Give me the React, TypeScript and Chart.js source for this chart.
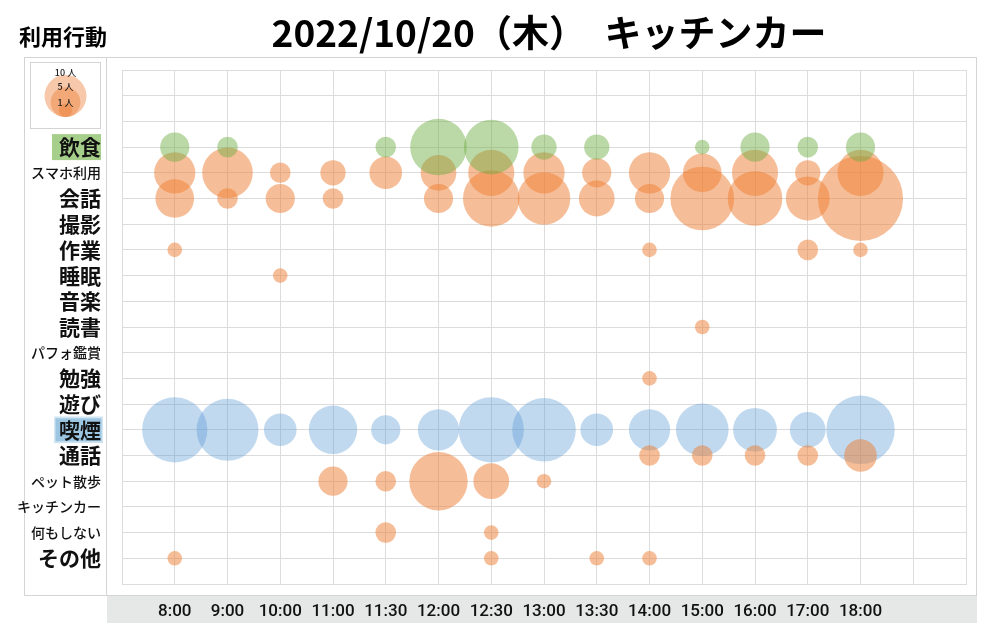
import React, { useEffect, useRef } from "react";
import { Chart, registerables } from "chart.js";

Chart.register(...registerables);

// ---- data ----
const TITLE = "2022/10/20（木）　キッチンカー";
const SIDE_TITLE = "利用行動";
const TIMES = ["8:00", "9:00", "10:00", "11:00", "11:30", "12:00", "12:30", "13:00", "13:30", "14:00", "15:00", "16:00", "17:00", "18:00"];
const ACTIVITIES = ["飲食", "スマホ利用", "会話", "撮影", "作業", "睡眠", "音楽", "読書", "パフォ鑑賞", "勉強", "遊び", "喫煙", "通話", "ペット散歩", "キッチンカー", "何もしない", "その他"];
const LEGEND_LABELS = ["10 人", "5 人", "1 人"];
const LEGEND_COUNTS = [10, 5, 1];

// people per time slot (0 = none)
const eating =       [4, 2, 0, 0, 2, 15, 14, 3, 3, 0, 1, 4, 2, 4];
const smartphone =   [8, 12, 2, 3, 5, 6, 10, 8, 4, 8, 7, 10, 3, 10];
const conversation = [7, 2, 4, 2, 0, 4, 15, 13, 6, 4, 19, 14, 9, 34];
const photo =        [0, 0, 0, 0, 0, 0, 0, 0, 0, 0, 0, 0, 0, 0];
const work =         [1, 0, 0, 0, 0, 0, 0, 0, 0, 1, 0, 0, 2, 1];
const sleep =        [0, 0, 1, 0, 0, 0, 0, 0, 0, 0, 0, 0, 0, 0];
const music =        [0, 0, 0, 0, 0, 0, 0, 0, 0, 0, 0, 0, 0, 0];
const reading =      [0, 0, 0, 0, 0, 0, 0, 0, 0, 0, 1, 0, 0, 0];
const performance =  [0, 0, 0, 0, 0, 0, 0, 0, 0, 0, 0, 0, 0, 0];
const study =        [0, 0, 0, 0, 0, 0, 0, 0, 0, 1, 0, 0, 0, 0];
const play =         [0, 0, 0, 0, 0, 0, 0, 0, 0, 0, 0, 0, 0, 0];
const smoking =      [20, 18, 5, 11, 4, 8, 20, 19, 5, 8, 13, 9, 6, 22];
const phoneCall =    [0, 0, 0, 0, 0, 0, 0, 0, 0, 2, 2, 2, 2, 5];
const petWalk =      [0, 0, 0, 4, 2, 16, 6, 1, 0, 0, 0, 0, 0, 0];
const kitchenCar =   [0, 0, 0, 0, 0, 0, 0, 0, 0, 0, 0, 0, 0, 0];
const nothing =      [0, 0, 0, 0, 2, 0, 1, 0, 0, 0, 0, 0, 0, 0];
const other =        [1, 0, 0, 0, 0, 0, 1, 0, 1, 1, 0, 0, 0, 0];

const SERIES_BY_ACTIVITY = [eating, smartphone, conversation, photo, work, sleep, music, reading, performance, study, play, smoking, phoneCall, petWalk, kitchenCar, nothing, other];

// ---- styling ----
const FONT = '"Noto Sans CJK JP", "Noto Sans", sans-serif';
const TICK_FONT = 'Roboto, "Noto Sans", sans-serif';
const GREEN = "rgba(112,173,71,0.48)";
const BLUE = "rgba(91,155,213,0.38)";
const ORANGE = "rgba(237,125,49,0.5)";
const GRID = "#dcdcdc";
const PANEL = "#d4d4d4";
const ROW_OFFSET = 3; // first activity row on the y scale
const X_OFFSET = 1;   // first time slot on the x scale
const R_UNIT = 7.3;   // radius of a 1-person bubble
const SMALL_LABELS = ["スマホ利用", "パフォ鑑賞", "ペット散歩", "キッチンカー", "何もしない"];

function pointsFor(rowIndexes: number[]) {
  const pts: { x: number; y: number; v: number }[] = [];
  rowIndexes.forEach((ri) => {
    SERIES_BY_ACTIVITY[ri].forEach((v, ti) => {
      if (v > 0) pts.push({ x: ti + X_OFFSET, y: ri + ROW_OFFSET, v });
    });
  });
  return pts;
}

const decor = {
  id: "decor",
  beforeDraw(chart: any) {
    const { ctx } = chart;
    const ys = chart.scales.y;
    ctx.save();
    ctx.fillStyle = "#ffffff";
    ctx.fillRect(0, 0, chart.width, chart.height);
    // grey label band
    ctx.fillStyle = "#e6e7e7";
    ctx.fillRect(107, 596, 870, 27);
    // panels
    ctx.strokeStyle = PANEL;
    ctx.lineWidth = 1;
    ctx.strokeRect(24.5, 57.5, 82, 538);
    ctx.strokeRect(106.5, 57.5, 870, 538);
    // size legend
    ctx.strokeRect(30.5, 62.5, 70, 66);
    const bottom = 117;
    const big = 21;
    LEGEND_COUNTS.forEach((c) => {
      const r = big * Math.sqrt(c / LEGEND_COUNTS[0]);
      ctx.beginPath();
      ctx.arc(65.5, bottom - r, r, 0, Math.PI * 2);
      ctx.fillStyle = "rgba(237,125,49,0.42)";
      ctx.fill();
    });
    ctx.fillStyle = "#222";
    ctx.font = `500 9px ${FONT}`;
    ctx.textAlign = "center";
    ctx.textBaseline = "middle";
    const ly = [73, 87, 103];
    LEGEND_LABELS.forEach((t, i) => ctx.fillText(t, 65.5, ly[i]));
    // label highlights
    const yE = ys.getPixelForValue(0 + ROW_OFFSET);
    ctx.fillStyle = "#a6cf8c";
    ctx.fillRect(52, yE - 13, 49, 26);
    const yS = ys.getPixelForValue(11 + ROW_OFFSET);
    ctx.fillStyle = "#9cc6e1";
    ctx.fillRect(54, yS - 13, 49, 26);
    ctx.strokeStyle = "#d3e6f2";
    ctx.lineWidth = 1.5;
    ctx.strokeRect(54.75, yS - 12.25, 47.5, 24.5);
    // titles
    ctx.fillStyle = "#000";
    ctx.textAlign = "center";
    ctx.font = `bold 37px ${FONT}`;
    ctx.fillText(TITLE, 549, 33);
    ctx.textAlign = "left";
    ctx.font = `bold 22px ${FONT}`;
    ctx.fillText(SIDE_TITLE, 19, 37);
    ctx.restore();
  },
};

function zeroPadding(s: any) {
  s.paddingLeft = 0;
  s.paddingRight = 0;
  s.paddingTop = 0;
  s.paddingBottom = 0;
}

export default function App() {
  const ref = useRef<HTMLCanvasElement>(null);
  useEffect(() => {
    const others = ACTIVITIES.map((_, i) => i).filter((i) => i !== 0 && i !== 11);
    const chart = new Chart(ref.current as HTMLCanvasElement, {
      type: "bubble",
      data: {
        datasets: [
          { label: "飲食", data: pointsFor([0]), backgroundColor: GREEN },
          { label: "その他行動", data: pointsFor(others), backgroundColor: ORANGE },
          { label: "喫煙", data: pointsFor([11]), backgroundColor: BLUE },
        ] as any,
      },
      options: {
        responsive: false,
        animation: false,
        events: [],
        layout: { autoPadding: false, padding: { left: 0, right: 17, top: 70, bottom: 0 } },
        elements: {
          point: {
            radius: (ctx: any) => R_UNIT * Math.sqrt(ctx.raw ? ctx.raw.v : 1),
            borderWidth: 0,
            hoverBorderWidth: 0,
          } as any,
        },
        plugins: {
          legend: { display: false },
          tooltip: { enabled: false },
          title: { display: false },
        },
        scales: {
          x: {
            type: "linear",
            min: 0,
            max: TIMES.length + 2,
            grid: { color: GRID, drawTicks: false },
            border: { color: GRID },
            ticks: {
              stepSize: 1,
              autoSkip: false,
              maxRotation: 0,
              padding: 18,
              color: "#111",
              font: { family: TICK_FONT, size: 17, weight: "500" } as any,
              callback: (v: any) => TIMES[Number(v) - X_OFFSET] ?? "",
            },
            afterFit: (s: any) => { s.height = 39; zeroPadding(s); },
          },
          y: {
            type: "linear",
            min: 0,
            max: ACTIVITIES.length + ROW_OFFSET,
            reverse: true,
            grid: { color: GRID, drawTicks: false },
            border: { color: GRID },
            ticks: {
              stepSize: 1,
              autoSkip: false,
              padding: 21,
              color: "#111",
              font: (ctx: any) => {
                const label = ACTIVITIES[Number(ctx.tick?.value) - ROW_OFFSET] ?? "";
                if (SMALL_LABELS.includes(label)) return { family: FONT, size: 14, weight: "500" };
                return { family: FONT, size: 21, weight: "bold" };
              },
              callback: (v: any) => ACTIVITIES[Number(v) - ROW_OFFSET] ?? "",
            },
            afterFit: (s: any) => { s.width = 122; zeroPadding(s); },
          },
        },
      } as any,
      plugins: [decor],
    });
    return () => chart.destroy();
  }, []);
  return (
    <div style={{ position: "fixed", left: 0, top: 0, width: 983, height: 623, background: "#fff" }}>
      <canvas ref={ref} width={983} height={623} style={{ display: "block", width: 983, height: 623 }} />
    </div>
  );
}
